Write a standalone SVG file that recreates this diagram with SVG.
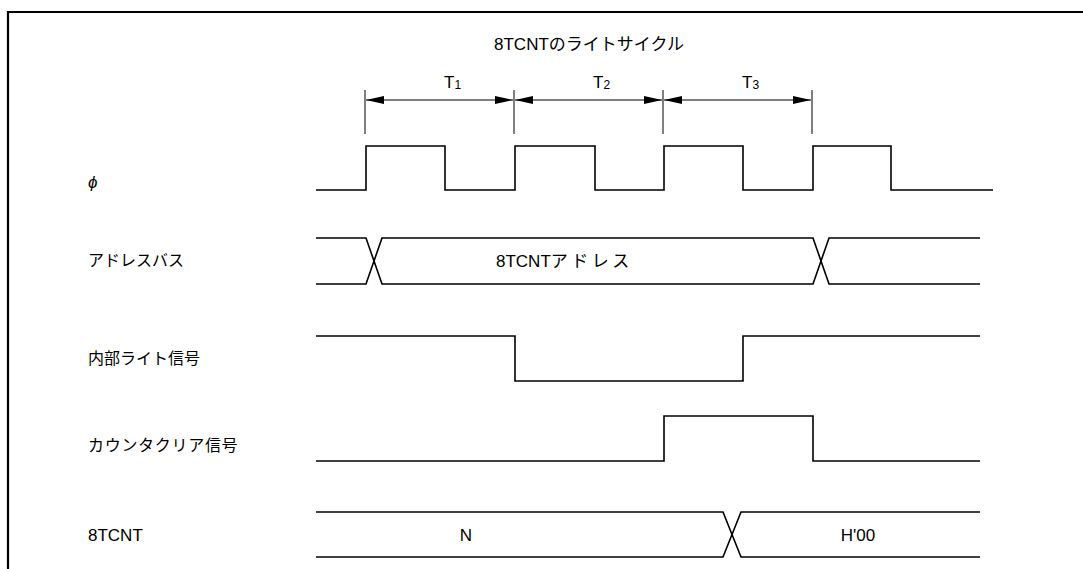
<svg xmlns="http://www.w3.org/2000/svg" width="1083" height="569" viewBox="0 0 1083 569">
<style>
.t{font-family:"Liberation Sans","Noto Sans CJK JP",sans-serif;font-size:16px;fill:#000}
.l{font-size:17px}
.c{text-anchor:middle}
.w{fill:none;stroke:#000;stroke-width:1.6}
.d{fill:none;stroke:#000;stroke-width:1}
</style>
<defs>
<marker id="ah" viewBox="0 0 18 8" refX="18" refY="4" markerWidth="18" markerHeight="8" markerUnits="userSpaceOnUse" orient="auto-start-reverse">
<path d="M0,0 L18,4 L0,8 Z" fill="#000"/>
</marker>
</defs>
<rect width="1083" height="569" fill="#fff"/>
<path d="M8,569 V12 H1083" fill="none" stroke="#000" stroke-width="2.2"/>
<text class="t l c" x="589" y="50">8TCNTのライトサイクル</text>
<g id="timing">
<line class="d" x1="365" y1="90" x2="365" y2="134"/>
<line class="d" x1="514" y1="90" x2="514" y2="134"/>
<line class="d" x1="663" y1="90" x2="663" y2="134"/>
<line class="d" x1="812" y1="90" x2="812" y2="134"/>
<line class="d" x1="366" y1="100" x2="513" y2="100" marker-start="url(#ah)" marker-end="url(#ah)"/>
<line class="d" x1="515" y1="100" x2="662" y2="100" marker-start="url(#ah)" marker-end="url(#ah)"/>
<line class="d" x1="664" y1="100" x2="811" y2="100" marker-start="url(#ah)" marker-end="url(#ah)"/>
<text class="t l" x="444" y="88">T<tspan font-size="12" dy="1">1</tspan></text>
<text class="t l" x="593" y="88">T<tspan font-size="12" dy="1">2</tspan></text>
<text class="t l" x="742" y="88">T<tspan font-size="12" dy="1">3</tspan></text>
</g>
<g id="phi">
<text class="t l" x="88" y="188" font-style="italic">ϕ</text>
<path class="w" d="M316,190 H366 V146 H445 V190 H515 V146 H595 V190 H664 V146 H743 V190 H813 V146 H891 V190 H993"/>
</g>
<g id="address">
<text class="t" x="88" y="266">アドレスバス</text>
<path class="w" d="M316,238 H366 L382,284 H813 L829,238 H980"/>
<path class="w" d="M316,284 H366 L382,238 H813 L829,284 H980"/>
<text class="t l" x="496" y="267">8TCNT<tspan letter-spacing="3.5">アドレス</tspan></text>
</g>
<g id="write">
<text class="t" x="88" y="364">内部ライト信号</text>
<path class="w" d="M316,336 H515 V381 H743 V336 H980"/>
</g>
<g id="clear">
<text class="t" x="88" y="451" letter-spacing="0.7">カウンタクリア信号</text>
<path class="w" d="M316,461 H664 V416 H813 V461 H980"/>
</g>
<g id="tcnt">
<text class="t l" x="88" y="541">8TCNT</text>
<path class="w" d="M316,512 H723 L741,557 H980"/>
<path class="w" d="M316,557 H723 L741,512 H980"/>
<text class="t l c" x="466" y="541">N</text>
<text class="t l c" x="858" y="541">H'00</text>
</g>
</svg>
